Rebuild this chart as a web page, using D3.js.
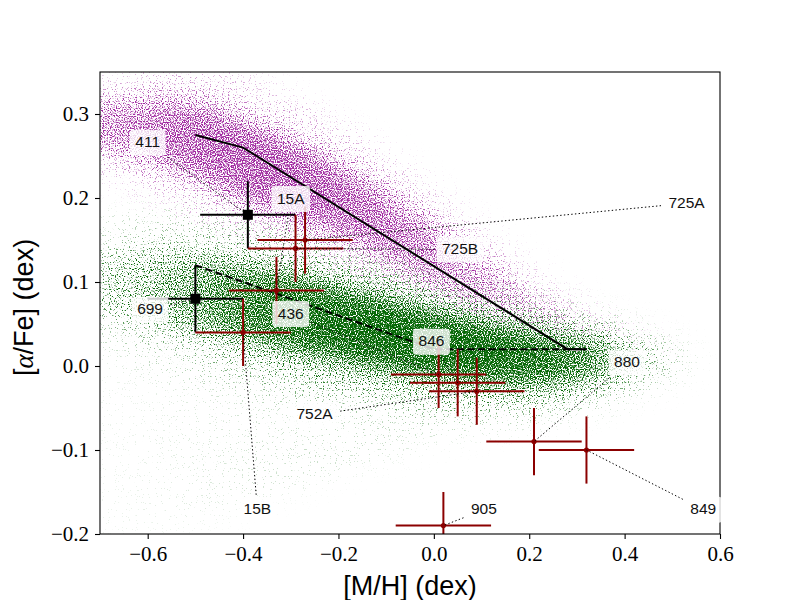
<!DOCTYPE html>
<html lang="en">
  <head>
    <meta charset="UTF-8" />
    <title>[alpha/Fe] vs [M/H]</title>
    <style>
      body { margin: 0; background: #fff; }
      svg { display: block; }
    </style>
  </head>
  <body>
    <div id="chart"></div>
    <script src="https://cdn.jsdelivr.net/npm/d3@7"></script>
    <script>
      // model tracks
      const upperTrackX = [-0.5, -0.4, 0.28, 0.32];
      const upperTrackY = [0.275, 0.26, 0.02, 0.02];
      const lowerTrackX = [-0.5, 0.0, 0.32];
      const lowerTrackY = [0.12, 0.02, 0.02];

      // black squares
      const blackNames = ["411", "699"];
      const blackX = [-0.39, -0.5];
      const blackY = [0.18, 0.08];
      const blackErrX = [0.1, 0.1];
      const blackErrY = [0.04, 0.04];

      // red measurements
      const redNames = ["15A", "15B", "725A", "725B", "436", "846", "752A", "880", "849", "905"];
      const redX = [-0.33, -0.4, -0.27, -0.29, 0.01, 0.05, 0.09, 0.21, 0.32, 0.02];
      const redY = [0.09, 0.04, 0.15, 0.14, -0.01, -0.02, -0.03, -0.09, -0.1, -0.19];
      const redErrX = [0.1, 0.1, 0.1, 0.1, 0.1, 0.1, 0.1, 0.1, 0.1, 0.1];
      const redErrY = [0.04, 0.04, 0.04, 0.04, 0.04, 0.04, 0.04, 0.04, 0.04, 0.04];

      // annotation text positions (data coords)
      const labelNames = ["411", "15A", "725A", "725B", "699", "436", "846", "752A", "15B", "880", "849", "905"];
      const labelX = [-0.6, -0.3, 0.53, 0.055, -0.595, -0.3, -0.005, -0.25, -0.37, 0.405, 0.565, 0.105];
      const labelY = [0.267, 0.2, 0.195, 0.14, 0.068, 0.063, 0.03, -0.057, -0.17, 0.005, -0.17, -0.17];

      // point clouds: ridge line, core half width, relative density
      const cloudX = [-0.75, -0.7, -0.6, -0.5, -0.4, -0.3, -0.2, -0.1, 0.0, 0.1, 0.2, 0.3, 0.4, 0.5, 0.55];
      const magentaMid = [0.29, 0.285, 0.28, 0.268, 0.245, 0.222, 0.198, 0.166, 0.133, 0.1, 0.072, 0.05, 0.035, 0.025, 0.02];
      const magentaHalf = [0.026, 0.028, 0.036, 0.042, 0.045, 0.044, 0.042, 0.04, 0.037, 0.032, 0.025, 0.018, 0.013, 0.01, 0.008];
      const magentaDens = [0.45, 0.5, 0.58, 0.66, 0.7, 0.7, 0.66, 0.6, 0.53, 0.44, 0.33, 0.22, 0.11, 0.04, 0.0];
      const greenMid = [0.1, 0.098, 0.092, 0.085, 0.075, 0.063, 0.05, 0.038, 0.026, 0.017, 0.01, 0.008, 0.008, 0.008, 0.008];
      const greenHalf = [0.03, 0.034, 0.04, 0.042, 0.043, 0.043, 0.04, 0.038, 0.036, 0.033, 0.03, 0.026, 0.02, 0.012, 0.01];
      const greenDens = [0.2, 0.25, 0.35, 0.5, 0.65, 0.78, 0.85, 0.9, 0.9, 0.88, 0.82, 0.68, 0.4, 0.15, 0.04];
      const greenLowEdge = [-0.21, -0.21, -0.2, -0.19, -0.17, -0.15, -0.13, -0.11, -0.09, -0.08, -0.07, -0.06, -0.05, -0.03, -0.02];

      const svg = d3.select("#chart").append("svg").attr("width", 800).attr("height", 600);
      const x = d3.scaleLinear().domain([-0.7, 0.6]).range([100, 720]);
      const y = d3.scaleLinear().domain([-0.2, 0.35]).range([534, 72]);
      const defs = svg.append("defs");

      defs.append("clipPath").attr("id", "plot")
        .append("rect").attr("x", 100).attr("y", 72).attr("width", 620).attr("height", 462);

      // grainy filter: blurred density -> thresholded noise -> coloured dots
      function speckle(id, seed, color, gain) {
        const f = defs.append("filter").attr("id", id)
          .attr("filterUnits", "userSpaceOnUse")
          .attr("x", 100).attr("y", 72).attr("width", 620).attr("height", 462)
          .attr("color-interpolation-filters", "sRGB");
        f.append("feGaussianBlur").attr("in", "SourceAlpha").attr("stdDeviation", 13).attr("result", "soft");
        f.append("feTurbulence").attr("type", "fractalNoise").attr("baseFrequency", 0.85)
          .attr("numOctaves", 1).attr("seed", seed).attr("result", "noise");
        f.append("feColorMatrix").attr("in", "noise").attr("type", "matrix")
          .attr("values", "0 0 0 0 0  0 0 0 0 0  0 0 0 0 0  0 0 0 2.5 -0.75").attr("result", "grain");
        f.append("feComposite").attr("in", "soft").attr("in2", "grain").attr("operator", "arithmetic")
          .attr("k1", 0).attr("k2", gain).attr("k3", -gain).attr("k4", 0).attr("result", "dots");
        f.append("feFlood").attr("flood-color", color).attr("result", "ink");
        f.append("feComposite").attr("in", "ink").attr("in2", "dots").attr("operator", "in");
      }
      speckle("spM", 3, "#a02aa0", 2.4);
      speckle("spG", 11, "#066806", 2.8);

      function densityGrad(id, dens) {
        const x0 = x(cloudX[0]), x1 = x(cloudX[cloudX.length - 1]);
        const g = defs.append("linearGradient").attr("id", id)
          .attr("gradientUnits", "userSpaceOnUse")
          .attr("x1", x0).attr("x2", x1).attr("y1", 0).attr("y2", 0);
        cloudX.forEach((v, i) => {
          g.append("stop").attr("offset", (x(v) - x0) / (x1 - x0))
            .attr("stop-color", "#000").attr("stop-opacity", dens[i]);
        });
      }
      densityGrad("dM", magentaDens);
      densityGrad("dG", greenDens);

      const idx = d3.range(cloudX.length);
      function band(mid, half, k) {
        return d3.area().curve(d3.curveMonotoneX)
          .x(i => x(cloudX[i]))
          .y0(i => y(mid[i] - k * half[i]))
          .y1(i => y(mid[i] + k * half[i]))(idx);
      }

      const cloudM = svg.append("g").attr("filter", "url(#spM)");
      cloudM.append("path").attr("d", band(magentaMid, magentaHalf, 2.3)).attr("fill", "url(#dM)").attr("opacity", 0.3);
      cloudM.append("path").attr("d", band(magentaMid, magentaHalf, 1.1)).attr("fill", "url(#dM)");

      const cloudG = svg.append("g").attr("filter", "url(#spG)");
      cloudG.append("path")
        .attr("d", d3.area().curve(d3.curveMonotoneX)
          .x(i => x(cloudX[i]))
          .y0(i => y(greenLowEdge[i]))
          .y1(i => y(greenMid[i] + 2.6 * greenHalf[i]))(idx))
        .attr("fill", "url(#dG)").attr("opacity", 0.1);
      cloudG.append("path").attr("d", band(greenMid, greenHalf, 2.2)).attr("fill", "url(#dG)").attr("opacity", 0.3);
      cloudG.append("path").attr("d", band(greenMid, greenHalf, 1.1)).attr("fill", "url(#dG)");

      // model tracks
      const marks = svg.append("g").attr("clip-path", "url(#plot)");
      const line = d3.line().x(d => x(d[0])).y(d => y(d[1]));
      marks.append("path").attr("d", line(upperTrackX.map((v, i) => [v, upperTrackY[i]])))
        .attr("fill", "none").attr("stroke", "#000").attr("stroke-width", 2);
      marks.append("path").attr("d", line(lowerTrackX.map((v, i) => [v, lowerTrackY[i]])))
        .attr("fill", "none").attr("stroke", "#000").attr("stroke-width", 2)
        .attr("stroke-dasharray", "7.4,3.2");

      function errorBars(xs, ys, ex, ey, color) {
        xs.forEach((v, i) => {
          marks.append("line").attr("x1", x(v - ex[i])).attr("x2", x(v + ex[i]))
            .attr("y1", y(ys[i])).attr("y2", y(ys[i])).attr("stroke", color).attr("stroke-width", 2);
          marks.append("line").attr("x1", x(v)).attr("x2", x(v))
            .attr("y1", y(ys[i] - ey[i])).attr("y2", y(ys[i] + ey[i])).attr("stroke", color).attr("stroke-width", 2);
        });
      }
      errorBars(blackX, blackY, blackErrX, blackErrY, "#000");
      errorBars(redX, redY, redErrX, redErrY, "#8b0000");

      marks.selectAll("rect.sq").data(blackX).join("rect").attr("class", "sq")
        .attr("x", d => x(d) - 5).attr("y", (d, i) => y(blackY[i]) - 5)
        .attr("width", 10).attr("height", 10).attr("fill", "#000");
      marks.selectAll("circle.dot").data(redX).join("circle").attr("class", "dot")
        .attr("cx", d => x(d)).attr("cy", (d, i) => y(redY[i]))
        .attr("r", 2.6).attr("fill", "#8b0000");

      // frame and axes
      svg.append("rect").attr("x", 100).attr("y", 72).attr("width", 620).attr("height", 462)
        .attr("fill", "none").attr("stroke", "#000").attr("stroke-width", 1.1);

      const fmt = d3.format(".1f");
      const gx = svg.append("g").attr("transform", "translate(0,534)")
        .call(d3.axisBottom(x).tickValues([-0.6, -0.4, -0.2, 0.0, 0.2, 0.4, 0.6])
          .tickFormat(fmt).tickSize(5).tickPadding(7).tickSizeOuter(0));
      const gy = svg.append("g").attr("transform", "translate(100,0)")
        .call(d3.axisLeft(y).tickValues([-0.2, -0.1, 0.0, 0.1, 0.2, 0.3])
          .tickFormat(fmt).tickSize(5).tickPadding(6).tickSizeOuter(0));
      [gx, gy].forEach(g => {
        g.select(".domain").remove();
        g.attr("font-family", "'Liberation Serif', serif").attr("font-size", 21);
        g.selectAll(".tick line").attr("stroke-width", 1.1);
      });

      svg.append("text").attr("x", 410).attr("y", 595).attr("text-anchor", "middle")
        .attr("font-family", "'Liberation Sans', sans-serif").attr("font-size", 27)
        .text("[M/H] (dex)");
      const yl = svg.append("text").attr("transform", "translate(33,307.5) rotate(-90)")
        .attr("text-anchor", "middle")
        .attr("font-family", "'Liberation Sans', sans-serif").attr("font-size", 27);
      yl.append("tspan").text("[");
      yl.append("tspan").attr("font-family", "'Liberation Serif', serif").attr("font-style", "italic").text("α");
      yl.append("tspan").text("/Fe] (dex)");

      // annotations
      const targets = {};
      blackNames.forEach((n, i) => (targets[n] = [blackX[i], blackY[i]]));
      redNames.forEach((n, i) => (targets[n] = [redX[i], redY[i]]));

      const annLines = svg.append("g");
      const annBoxes = svg.append("g");
      const annText = svg.append("g")
        .attr("font-family", "'Liberation Sans', sans-serif").attr("font-size", 15.5);

      labelNames.forEach((n, i) => {
        const cx = x(labelX[i]), cy = y(labelY[i]);
        const t = annText.append("text").attr("x", cx).attr("y", cy).attr("dy", "0.36em")
          .attr("text-anchor", "middle").attr("fill", "#111").text(n);
        const w = t.node().getComputedTextLength() + 11, h = 26;
        const bx = cx - w / 2, by = cy - 12;
        annBoxes.append("rect").attr("x", bx).attr("y", by).attr("width", w).attr("height", h)
          .attr("rx", 3).attr("fill", "#fff").attr("fill-opacity", 0.8);
        const tx = x(targets[n][0]), ty = y(targets[n][1]);
        const dx = tx - cx, dy = ty - (by + h / 2);
        const s = Math.min(
          dx !== 0 ? (w / 2 + 2) / Math.abs(dx) : Infinity,
          dy !== 0 ? (h / 2 + 2) / Math.abs(dy) : Infinity
        );
        annLines.append("line")
          .attr("x1", cx + s * dx).attr("y1", by + h / 2 + s * dy)
          .attr("x2", tx).attr("y2", ty)
          .attr("stroke", "#000").attr("stroke-width", 1).attr("stroke-dasharray", "1.4,2.3");
      });
    </script>
  </body>
</html>
